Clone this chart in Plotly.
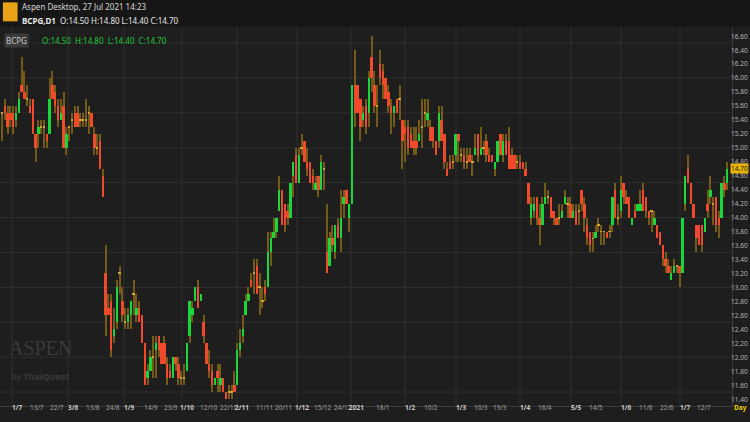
import plotly.graph_objects as go

# daily BCPG candles, 1 Jul 2020 .. 27 Jul 2021
opens = [
    15.5, 15.6, 15.5, 15.5, 15.5, 15.4, 15.5, 15.9, 15.8, 15.7,
    15.6, 15.7, 15.2, 15.2, 15.3, 15.3, 15.2, 15.2, 15.9, 15.8,
    15.6, 15.4, 15.6, 15.0, 15.3, 15.4, 15.5, 15.5, 15.4, 15.4,
    15.4, 15.5, 15.5, 15.2, 15.0, 15.1, 14.6, 13.2, 12.7, 12.8,
    12.3, 12.5, 13.2, 12.8, 12.5, 12.5, 12.6, 12.9, 12.6, 12.7,
    12.6, 12.2, 11.7, 11.8, 12.0, 12.1, 12.3, 12.2, 12.2, 11.9,
    11.8, 11.7, 12.0, 11.9, 11.7, 11.7, 11.8, 12.3, 12.6, 12.8,
    13.0, 12.8, 12.5, 12.2, 11.9, 11.8, 11.6, 11.8, 11.6, 11.7,
    11.5, 11.5, 11.5, 11.6, 11.6, 12.1, 12.3, 12.6, 12.8, 13.1,
    13.2, 13.3, 13.0, 12.8, 13.0, 13.0, 13.5, 13.7, 13.8, 14.1,
    14.4, 14.2, 14.1, 14.0, 14.6, 14.9, 14.5, 15.0, 15.1, 14.8,
    14.8, 14.6, 14.4, 14.6, 14.4, 14.7, 13.5, 13.3, 13.7, 13.5,
    13.9, 13.7, 14.2, 14.4, 14.0, 14.2, 15.9, 15.9, 15.7, 15.4,
    15.6, 15.5, 16.3, 15.9, 15.6, 16.2, 16.1, 16.0, 15.8, 15.6,
    15.5, 15.7, 15.7, 15.4, 15.3, 15.3, 15.2, 15.1, 15.1, 15.1,
    15.3, 15.5, 15.4, 15.3, 15.3, 15.1, 15.1, 15.4, 15.2, 14.7,
    14.8, 14.8, 14.9, 15.2, 14.9, 14.9, 14.8, 14.9, 14.8, 14.9,
    15.2, 14.9, 15.0, 15.1, 14.9, 14.9, 14.7, 14.8, 15.2, 14.9,
    15.1, 15.1, 14.9, 14.9, 14.8, 14.8, 14.8, 14.7, 14.5, 14.0,
    14.1, 14.3, 14.0, 13.9, 14.2, 14.3, 14.3, 14.1, 14.0, 14.0,
    14.0, 14.2, 14.2, 14.2, 14.0, 14.1, 14.1, 14.4, 14.2, 13.9,
    13.8, 13.7, 13.7, 13.9, 13.8, 13.8, 13.8, 13.8, 13.9, 14.4,
    14.0, 14.1, 14.5, 14.3, 14.3, 13.9, 14.1, 14.1, 14.1, 14.4,
    14.3, 14.1, 14.1, 13.9, 13.9, 13.8, 13.6, 13.4, 13.3, 13.1,
    13.2, 13.3, 13.3, 13.2, 14.2, 14.7, 14.5, 14.2, 13.9, 13.9,
    13.9, 13.8, 14.2, 14.3, 14.2, 14.3, 14.0, 14.0, 14.5, 14.5,
]
highs = [
    15.5, 15.7, 15.6, 15.6, 15.6, 15.6, 15.8, 16.3, 16.1, 15.9,
    15.7, 15.7, 15.2, 15.4, 15.4, 15.4, 15.2, 16.0, 16.1, 15.9,
    15.7, 15.7, 15.8, 15.3, 15.3, 15.5, 15.6, 15.6, 15.5, 15.5,
    15.7, 15.6, 15.5, 15.3, 15.2, 15.2, 14.7, 13.6, 12.9, 12.9,
    12.7, 13.1, 13.3, 13.0, 12.7, 12.7, 12.8, 13.1, 12.9, 12.8,
    12.6, 12.2, 11.9, 12.1, 12.3, 12.3, 12.3, 12.2, 12.3, 12.0,
    11.9, 12.0, 12.0, 12.0, 11.8, 11.9, 12.2, 12.8, 12.8, 13.0,
    13.1, 12.9, 12.6, 12.2, 12.1, 11.9, 11.7, 11.9, 11.9, 11.7,
    11.5, 11.6, 11.6, 11.8, 12.2, 12.4, 12.6, 12.9, 13.0, 13.2,
    13.4, 13.4, 13.2, 13.0, 13.1, 13.8, 13.8, 14.0, 14.0, 14.6,
    14.4, 14.2, 14.2, 14.5, 14.8, 15.0, 15.0, 15.2, 15.1, 15.0,
    14.8, 14.7, 14.6, 14.6, 14.9, 14.8, 14.2, 13.8, 13.9, 13.9,
    14.0, 14.4, 14.4, 14.4, 14.2, 15.9, 16.4, 15.9, 15.7, 15.6,
    15.7, 16.1, 16.6, 16.1, 15.9, 16.4, 16.2, 16.0, 15.9, 15.7,
    15.6, 15.7, 15.9, 15.4, 15.4, 15.4, 15.3, 15.3, 15.3, 15.4,
    15.7, 15.7, 15.7, 15.4, 15.3, 15.1, 15.6, 15.6, 15.2, 14.8,
    14.9, 14.9, 15.2, 15.2, 15.0, 15.0, 15.0, 15.0, 14.9, 15.2,
    15.2, 15.3, 15.1, 15.2, 15.0, 14.9, 14.8, 15.1, 15.2, 15.2,
    15.2, 15.3, 15.0, 14.9, 14.9, 14.9, 14.8, 14.8, 14.5, 14.3,
    14.3, 14.3, 14.2, 14.3, 14.5, 14.4, 14.3, 14.1, 14.0, 14.2,
    14.2, 14.4, 14.3, 14.3, 14.2, 14.2, 14.2, 14.4, 14.3, 14.0,
    13.8, 13.8, 13.9, 14.0, 13.9, 13.8, 13.8, 13.9, 14.3, 14.5,
    14.2, 14.6, 14.5, 14.4, 14.3, 14.0, 14.2, 14.2, 14.4, 14.5,
    14.3, 14.1, 14.1, 14.1, 13.9, 13.8, 13.6, 13.5, 13.4, 13.3,
    13.4, 13.3, 13.3, 14.0, 14.6, 14.9, 14.5, 14.2, 13.9, 13.9,
    13.9, 14.0, 14.4, 14.6, 14.3, 14.3, 14.1, 14.5, 14.6, 14.8,
]
lows = [
    15.1, 15.4, 15.2, 15.3, 15.2, 15.3, 15.5, 15.8, 15.7, 15.6,
    15.5, 15.2, 14.8, 15.0, 15.2, 15.0, 15.0, 15.2, 15.7, 15.5,
    15.3, 15.4, 15.0, 14.9, 15.1, 15.2, 15.3, 15.3, 15.3, 15.3,
    15.3, 15.2, 15.3, 14.9, 14.9, 14.7, 14.3, 12.3, 12.6, 12.0,
    12.2, 12.4, 12.9, 12.5, 12.4, 12.4, 12.4, 12.6, 12.5, 12.5,
    12.2, 11.6, 11.6, 11.8, 11.7, 11.7, 12.0, 11.9, 11.9, 11.6,
    11.7, 11.7, 11.8, 11.6, 11.6, 11.6, 11.8, 12.2, 12.5, 12.8,
    12.7, 12.8, 12.2, 11.9, 11.7, 11.5, 11.6, 11.5, 11.5, 11.5,
    11.4, 11.4, 11.4, 11.5, 11.6, 12.0, 12.2, 12.6, 12.8, 13.0,
    12.9, 12.9, 12.6, 12.7, 12.8, 13.0, 13.3, 13.7, 13.7, 14.1,
    13.9, 13.8, 13.9, 14.0, 14.3, 14.5, 14.5, 14.9, 14.8, 14.6,
    14.5, 14.4, 14.4, 14.3, 14.4, 14.4, 13.2, 13.3, 13.5, 13.4,
    13.7, 13.5, 14.0, 14.2, 13.8, 14.2, 15.3, 15.5, 15.1, 15.3,
    15.2, 15.3, 15.8, 15.5, 15.3, 15.9, 15.7, 15.7, 15.5, 15.2,
    15.3, 15.5, 15.4, 14.7, 14.8, 14.9, 15.0, 14.9, 14.9, 15.1,
    15.0, 15.3, 15.3, 15.1, 15.0, 14.9, 15.0, 15.1, 14.7, 14.6,
    14.7, 14.7, 14.8, 14.8, 14.8, 14.7, 14.7, 14.8, 14.6, 14.9,
    14.8, 14.9, 14.9, 14.8, 14.8, 14.8, 14.6, 14.8, 14.9, 14.8,
    14.9, 14.7, 14.7, 14.7, 14.7, 14.7, 14.7, 14.6, 14.2, 13.9,
    14.0, 13.9, 13.6, 13.9, 14.2, 14.2, 14.0, 13.9, 13.9, 13.9,
    14.0, 14.2, 14.0, 14.0, 14.0, 13.9, 13.9, 14.1, 13.8, 13.6,
    13.5, 13.5, 13.7, 13.8, 13.6, 13.6, 13.7, 13.7, 13.8, 14.0,
    13.9, 14.0, 14.2, 14.2, 14.0, 13.9, 14.0, 14.1, 14.1, 14.1,
    14.0, 13.9, 13.8, 13.9, 13.7, 13.6, 13.3, 13.2, 13.2, 13.1,
    13.2, 13.2, 13.0, 13.2, 14.1, 14.5, 14.2, 14.0, 13.5, 13.6,
    13.5, 13.8, 14.0, 14.2, 13.9, 13.8, 13.7, 14.0, 14.3, 14.4,
]
closes = [
    15.5, 15.5, 15.3, 15.4, 15.3, 15.5, 15.7, 15.8, 15.7, 15.7,
    15.5, 15.2, 15.0, 15.3, 15.3, 15.3, 15.1, 15.7, 15.7, 15.6,
    15.4, 15.5, 15.0, 15.2, 15.3, 15.4, 15.3, 15.3, 15.4, 15.4,
    15.4, 15.5, 15.3, 15.0, 15.0, 14.7, 14.3, 12.6, 12.6, 12.1,
    12.4, 13.0, 13.2, 12.6, 12.5, 12.6, 12.8, 12.9, 12.7, 12.5,
    12.2, 11.6, 11.8, 12.0, 12.0, 12.2, 12.1, 11.9, 11.9, 11.7,
    11.7, 12.0, 11.9, 11.7, 11.7, 11.7, 12.2, 12.8, 12.7, 13.0,
    12.7, 12.9, 12.3, 11.9, 11.8, 11.6, 11.7, 11.7, 11.7, 11.5,
    11.4, 11.5, 11.5, 11.5, 12.1, 12.2, 12.4, 12.8, 12.9, 13.0,
    13.2, 12.9, 13.0, 12.8, 12.9, 13.5, 13.7, 13.8, 14.0, 14.4,
    13.9, 13.9, 14.0, 14.5, 14.8, 14.5, 14.9, 15.0, 14.8, 14.7,
    14.5, 14.5, 14.5, 14.4, 14.8, 14.7, 13.2, 13.7, 13.6, 13.9,
    13.7, 14.0, 14.3, 14.2, 14.2, 15.9, 15.5, 15.5, 15.3, 15.5,
    15.3, 16.0, 16.0, 15.6, 15.6, 16.0, 15.9, 15.7, 15.6, 15.5,
    15.6, 15.5, 15.7, 15.1, 15.2, 15.0, 15.0, 15.0, 15.0, 15.2,
    15.3, 15.5, 15.5, 15.1, 15.1, 14.9, 15.5, 15.1, 14.8, 14.6,
    14.7, 14.8, 15.2, 15.1, 14.9, 14.8, 14.8, 14.8, 14.8, 15.0,
    14.9, 15.0, 15.0, 14.9, 14.8, 14.8, 14.8, 15.1, 14.9, 15.1,
    14.9, 14.7, 14.7, 14.7, 14.8, 14.7, 14.7, 14.6, 14.2, 14.2,
    14.2, 14.0, 13.9, 14.2, 14.3, 14.3, 14.0, 14.0, 13.9, 14.0,
    14.1, 14.3, 14.2, 14.0, 14.1, 13.9, 14.1, 14.2, 14.0, 13.7,
    13.6, 13.7, 13.8, 13.9, 13.8, 13.8, 13.7, 13.8, 14.3, 14.0,
    14.0, 14.4, 14.3, 14.2, 14.0, 14.0, 14.0, 14.2, 14.2, 14.1,
    14.1, 14.0, 14.1, 14.0, 13.7, 13.6, 13.4, 13.3, 13.2, 13.2,
    13.3, 13.3, 13.2, 14.0, 14.6, 14.5, 14.2, 14.0, 13.7, 13.6,
    13.6, 14.0, 14.1, 14.4, 14.2, 13.9, 13.9, 14.5, 14.4, 14.7,
]

# x-axis labels and where they sit (pixel position in the original picture)
tick_text = ["1/7", "13/7", "22/7", "3/8", "13/8", "24/8", "1/9", "14/9", "23/9",
             "1/10", "12/10", "22/10", "2/11", "11/11", "20/11", "1/12", "15/12",
             "24/12", "2021", "18/1", "1/2", "10/2", "1/3", "10/3", "19/3", "1/4",
             "16/4", "5/5", "14/5", "1/6", "11/6", "22/6", "1/7", "12/7"]
tick_px = [17, 37, 57, 73, 93, 113, 129, 151, 171, 187, 209, 229, 242, 264, 283,
           302, 323, 343, 356, 383, 410, 431, 461, 481, 500, 525, 545, 576, 596,
           626, 646, 667, 685, 704]
month_start = {"1/7", "3/8", "1/9", "1/10", "2/11", "1/12", "2021", "1/2", "1/3",
               "1/4", "5/5", "1/6"}
y_ticks = [11.4, 11.6, 11.8, 12.0, 12.2, 12.4, 12.6, 12.8, 13.0, 13.2, 13.4, 13.6,
           13.8, 14.0, 14.2, 14.4, 14.6, 14.8, 15.0, 15.2, 15.4, 15.6, 15.8, 16.0,
           16.2, 16.4, 16.6]

n = len(closes)
assert len(opens) == len(highs) == len(lows) == n
xs = list(range(n))
STEP = 2.8  # px per candle
PLOT_W = 732
px2i = lambda p: (p - 2) / STEP
W, H = 750, 422
MT, MB = 27, 16
PLOT_H = H - MT - MB
LABEL_Y = -(414 - (H - MB)) / PLOT_H  # x labels centred at y=414px
RIGHT_EDGE = 749 / PLOT_W              # paper x of the window's right edge

GREEN, RED, GOLD, WICK = "#19d63a", "#f04a2c", "#d2a52a", "#735a18"

base, height, colors = [], [], []
for o, c in zip(opens, closes):
    if abs(c - o) < 1e-9:
        base.append(o - 0.007); height.append(0.014); colors.append(GOLD)
    else:
        base.append(min(o, c)); height.append(abs(c - o))
        colors.append(GREEN if c > o else RED)

fig = go.Figure()
# wicks (thin bars so they stay beneath the bodies)
fig.add_trace(go.Bar(x=xs, y=[h - l for h, l in zip(highs, lows)], base=lows,
                     width=0.3, marker_color=WICK, marker_line_width=0,
                     hoverinfo="skip"))
fig.add_trace(go.Bar(x=xs, y=height, base=base, width=0.8, marker_color=colors,
                     marker_line_width=0))

# vertical grid at month starts, horizontal grid every 0.5
for t, p in zip(tick_text, tick_px):
    if t in month_start:
        fig.add_vline(x=px2i(p - 5), line_color="#2e2e2e", line_width=1, layer="below")
for lv in [11.5, 12.0, 12.5, 13.0, 13.5, 14.0, 14.5, 15.0, 15.5, 16.0, 16.5]:
    fig.add_hline(y=lv, line_color="#2e2e2e", line_width=1, layer="below")

fig.update_layout(
    width=W, height=H, showlegend=False, barmode="overlay", bargap=0,
    paper_bgcolor="#1e1e1e", plot_bgcolor="#1e1e1e",
    margin=dict(l=0, r=W - PLOT_W, t=MT, b=MB),
    font=dict(family="Noto Sans", size=7, color="#b4b4b4"),
    xaxis=dict(range=[px2i(0), px2i(PLOT_W)], showgrid=False, zeroline=False,
               showticklabels=False, showline=True, linecolor="#3a3a3a"),
    yaxis=dict(side="right", range=[11.30, 16.73], showgrid=False,
               zeroline=False, showticklabels=False, showline=True,
               linecolor="#3a3a3a"),
)

# price labels on the right
for v in y_ticks:
    fig.add_annotation(xref="paper", yref="y", x=RIGHT_EDGE, y=v, xanchor="right",
                       showarrow=False, text=f"{v:.2f}", borderpad=0,
                       font=dict(size=6.5, color="#b4b4b4"))
fig.add_annotation(xref="paper", yref="y", x=RIGHT_EDGE, y=closes[-1], xanchor="right",
                   showarrow=False, text="14.70", bgcolor="#e8b400",
                   font=dict(size=6.5, color="#1e1e1e"), borderpad=0)

# x tick labels
for t, p in zip(tick_text, tick_px):
    fig.add_annotation(xref="x", yref="paper", x=px2i(p), y=LABEL_Y,
                       showarrow=False, text=f"<b>{t}</b>" if t in month_start else t,
                       font=dict(size=6.5, color="#c8c8c8" if t in month_start else "#a0a0a0"))
fig.add_annotation(xref="paper", yref="paper", x=RIGHT_EDGE, y=LABEL_Y, xanchor="right",
                   showarrow=False, text="<b>Day</b>",
                   font=dict(size=6.5, color="#e8d000"))

# header bar
fig.add_shape(type="rect", xref="paper", yref="paper", x0=-0.01, x1=1.05,
              y0=1.0, y1=1.08, fillcolor="#161616", line_width=0, layer="below")
fig.add_shape(type="rect", xref="paper", yref="paper", x0=0.004, x1=0.024,
              y0=1.015, y1=1.065, fillcolor="#e8a317", line_width=0)
fig.add_annotation(xref="paper", yref="paper", x=0.027, y=1.075, xanchor="left",
                   yanchor="top", showarrow=False,
                   text="Aspen Desktop, 27 Jul 2021 14:23",
                   font=dict(size=8, color="#d8d8d8"))
fig.add_annotation(xref="paper", yref="paper", x=0.027, y=1.038, xanchor="left",
                   yanchor="top", showarrow=False,
                   text="<b>BCPG,D1</b>  O:14.50 H:14.80 L:14.40 C:14.70",
                   font=dict(size=8, color="#e8e8e8"))
fig.add_annotation(xref="paper", yref="paper", x=0.006, y=0.985, xanchor="left",
                   yanchor="top", showarrow=False, text="BCPG", bgcolor="#3a3a3a",
                   borderpad=1, font=dict(size=8, color="#c8c8c8"))
fig.add_annotation(xref="paper", yref="paper", x=0.055, y=0.985, xanchor="left",
                   yanchor="top", showarrow=False,
                   text="O:14.50  H:14.80  L:14.40  C:14.70",
                   font=dict(size=8, color="#1ec83a"))
# watermark
fig.add_annotation(xref="paper", yref="paper", x=0.01, y=0.12, xanchor="left",
                   showarrow=False, text="ASPEN",
                   font=dict(family="Liberation Serif", size=20, color="#3a3a3a"))
fig.add_annotation(xref="paper", yref="paper", x=0.012, y=0.055, xanchor="left",
                   showarrow=False, text="by <b>ThaiQuest</b>",
                   font=dict(size=9, color="#3a3a3a"))

# page body has a default 8px margin; drop it so the figure fills the window
fig.write_html("out.html", config={"displayModeBar": False},
               post_script="document.body.style.margin='0';")
